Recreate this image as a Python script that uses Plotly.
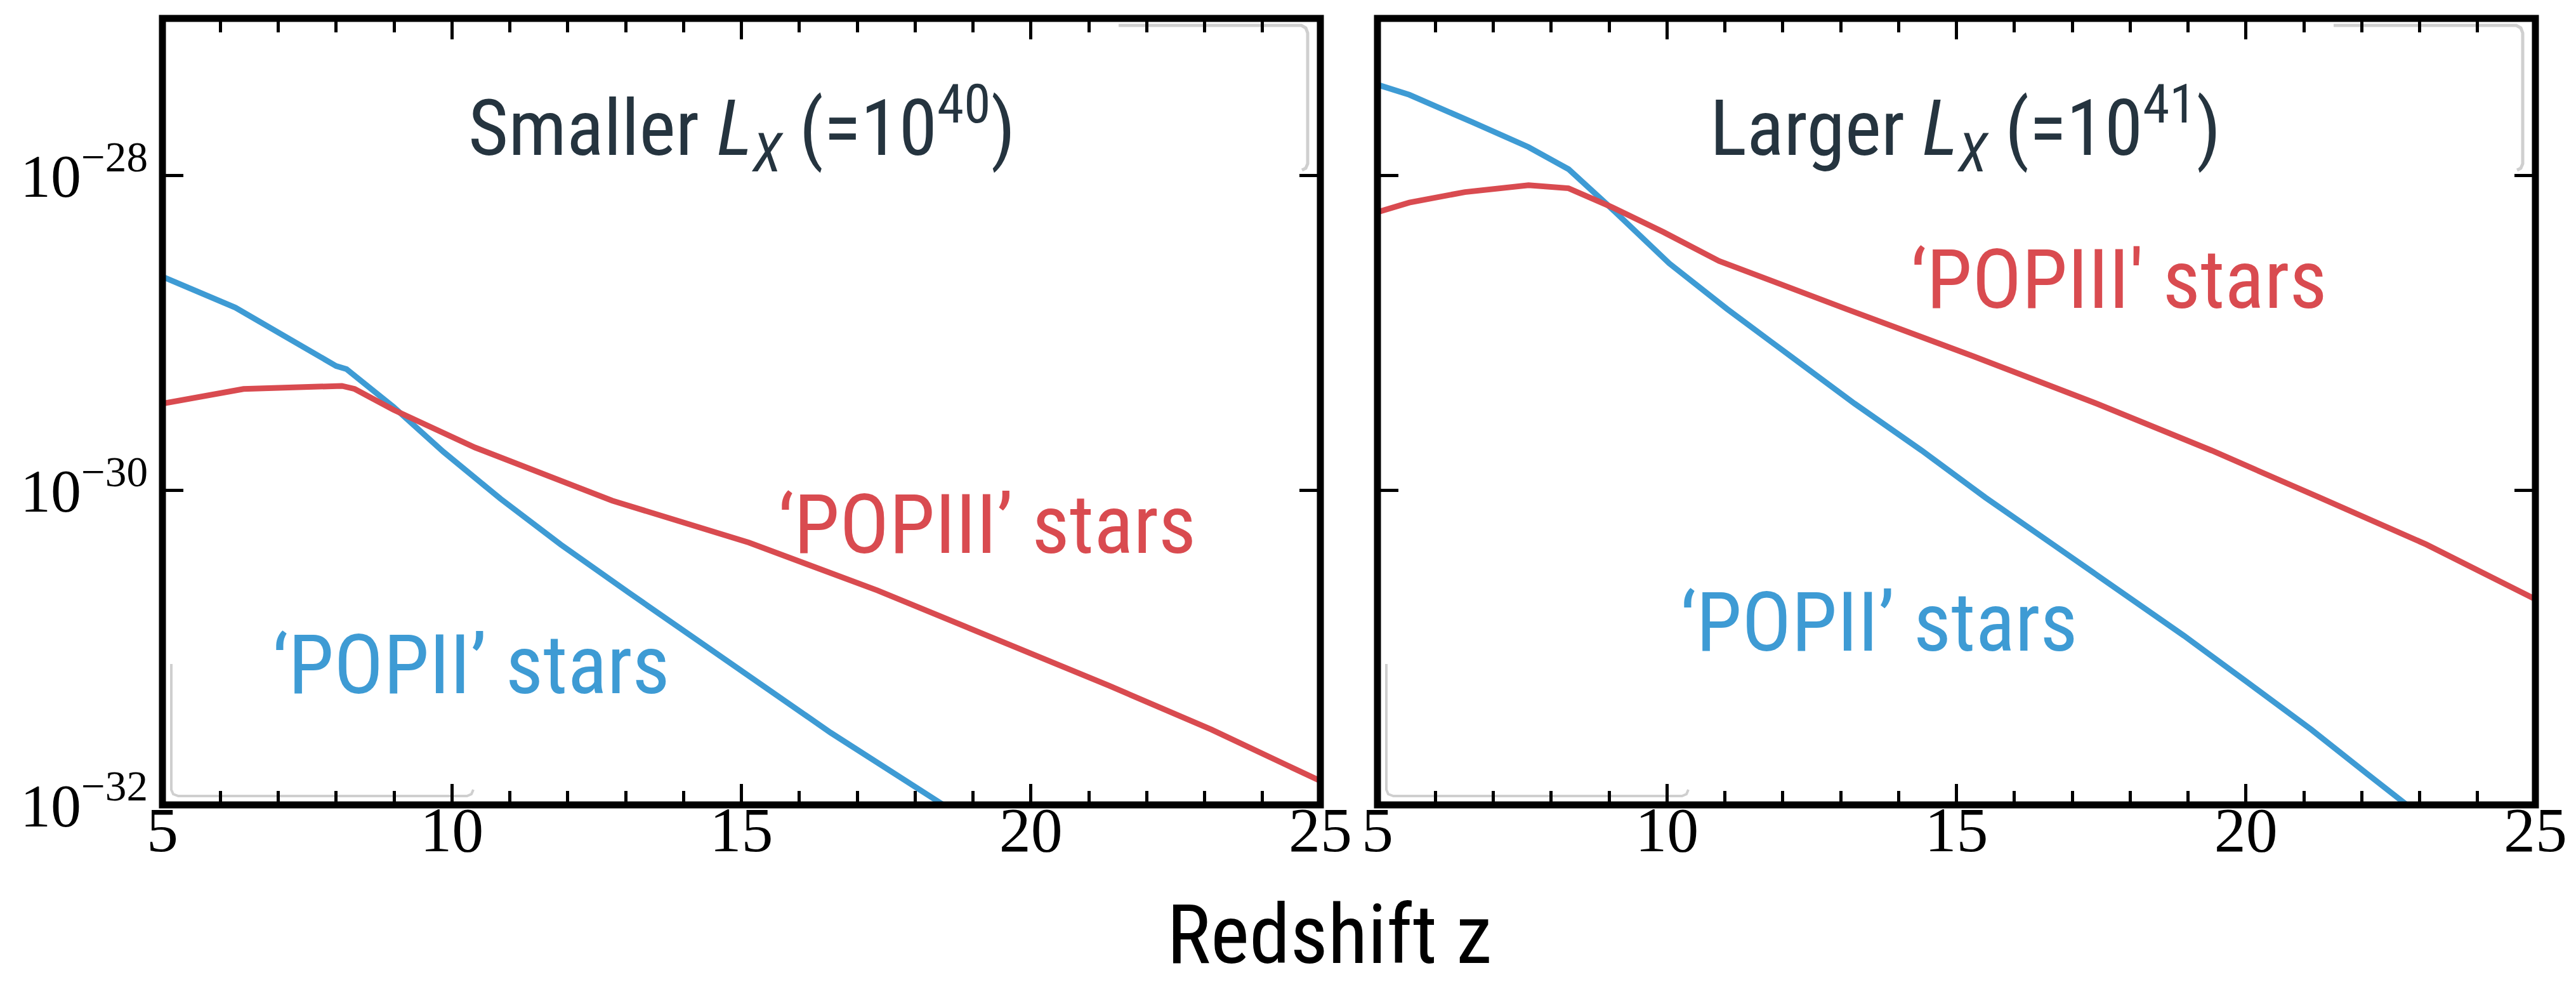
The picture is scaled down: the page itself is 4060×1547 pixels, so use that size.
import plotly.graph_objects as go

# ---------------- data ----------------
z_left_pop2 = [5.0, 6.26, 8.0, 8.18, 8.99, 9.85, 10.84, 11.88, 13.06, 15.28, 16.54, 18.49, 18.7]
y_left_pop2 = [2.28e-29, 1.45e-29, 6.17e-30, 5.89e-30, 3.39e-30, 1.76e-30, 8.83e-31, 4.52e-31,
               2.23e-31, 6.03e-32, 2.88e-32, 1.0e-32, 7.9e-33]

z_left_pop3 = [5.0, 6.4, 8.1, 8.32, 8.99, 10.4, 12.77, 15.13, 17.35, 19.42, 21.35, 23.12, 25.0]
y_left_pop3 = [3.56e-30, 4.41e-30, 4.61e-30, 4.41e-30, 3.25e-30, 1.87e-30, 8.59e-31, 4.65e-31,
               2.31e-31, 1.12e-31, 5.73e-32, 3.01e-32, 1.42e-32]

z_right_pop2 = [5.0, 5.55, 6.65, 7.61, 8.3, 9.05, 10.04, 11.04, 12.14, 13.24, 14.4, 15.5, 16.67,
                17.84, 18.93, 20.03, 21.13, 22.09, 22.75, 23.0]
y_right_pop2 = [3.79e-28, 3.27e-28, 2.18e-28, 1.52e-28, 1.10e-28, 6.15e-29, 2.77e-29, 1.42e-29,
                7.10e-30, 3.56e-30, 1.79e-30, 9.0e-31, 4.52e-31, 2.27e-31, 1.19e-31, 6.0e-32,
                3.01e-32, 1.58e-32, 1.02e-32, 8.3e-33]

z_right_pop3 = [5.0, 5.55, 6.51, 7.61, 8.3, 9.05, 9.94, 10.9, 13.1, 15.3, 17.42, 19.41, 21.27, 23.12, 25.0]
y_right_pop3 = [5.87e-29, 6.75e-29, 7.87e-29, 8.71e-29, 8.32e-29, 6.31e-29, 4.38e-29, 2.87e-29,
                1.42e-29, 7.10e-30, 3.56e-30, 1.79e-30, 9.0e-31, 4.52e-31, 2.03e-31]

x_tick_vals = [5, 10, 15, 20, 25]
x_tick_text = ["5", "10", "15", "20", "25"]
y_tick_vals = [1e-32, 1e-30, 1e-28]
y_tick_text = ["10<sup>\u221232</sup>", "10<sup>\u221230</sup>", "10<sup>\u221228</sup>"]

panel_titles = ["Smaller <i>L<sub>X</sub></i> (=10<sup>40</sup>)",
                "Larger <i>L<sub>X</sub></i> (=10<sup>41</sup>)"]
label_pop3 = ["\u2018POPIII\u2019 stars", "\u2018POPIII' stars"]
label_pop2 = ["\u2018POPII\u2019 stars", "\u2018POPII\u2019 stars"]
x_title = "Redshift z"

# ---------------- styling ----------------
RED = "#d94b50"
BLUE = "#3e9bd4"
TITLE_C = "#25343f"
SANS = ("Noto Sans Condensed, Noto Sans SemiCondensed, Roboto Condensed, "
        "Liberation Sans Narrow, Arial Narrow, Roboto, sans-serif")
SERIF = "Liberation Serif, Times New Roman, serif"

W, H = 4060, 1547
L_PX, R_PX, T_PX, B_PX = 248, 3988, 21, 1260
plot_w = R_PX - L_PX
plot_h = B_PX - T_PX
dom_left = [0, (2073 - L_PX) / plot_w]
dom_right = [(2163 - L_PX) / plot_w, 1]


def pp(px, py):
    return (px - L_PX) / plot_w, (B_PX - py) / plot_h


fig = go.Figure()
fig.add_trace(go.Scatter(x=z_left_pop2, y=y_left_pop2, mode="lines",
                         line=dict(color=BLUE, width=9), xaxis="x", yaxis="y", showlegend=False))
fig.add_trace(go.Scatter(x=z_left_pop3, y=y_left_pop3, mode="lines",
                         line=dict(color=RED, width=9), xaxis="x", yaxis="y", showlegend=False))
fig.add_trace(go.Scatter(x=z_right_pop2, y=y_right_pop2, mode="lines",
                         line=dict(color=BLUE, width=9), xaxis="x2", yaxis="y2", showlegend=False))
fig.add_trace(go.Scatter(x=z_right_pop3, y=y_right_pop3, mode="lines",
                         line=dict(color=RED, width=9), xaxis="x2", yaxis="y2", showlegend=False))


def xaxis_cfg(domain, anchor):
    return dict(domain=domain, anchor=anchor, range=[5, 25], tickvals=x_tick_vals,
                ticktext=x_tick_text, ticks="inside", ticklen=33, tickwidth=5, tickcolor="black",
                mirror="allticks", showline=False, showgrid=False, zeroline=False,
                minor=dict(ticks="inside", ticklen=22, tickwidth=5, tickcolor="black",
                           dtick=1, tick0=5, showgrid=False),
                tickfont=dict(family=SERIF, size=100, color="black"), ticklabelstandoff=-28)


def yaxis_cfg(anchor, labels):
    return dict(domain=[0, 1], anchor=anchor, type="log", range=[-32, -27],
                tickvals=y_tick_vals, ticktext=y_tick_text, showticklabels=labels,
                ticks="inside", ticklen=33, tickwidth=5, tickcolor="black",
                mirror="allticks", showline=False, showgrid=False, zeroline=False,
                tickfont=dict(family=SERIF, size=96, color="black"), ticklabelstandoff=22)


annotations = []
title_pos = [(15.0, -27.70, "x", "y"), (15.15, -27.70, "x2", "y2")]
for (tx, ty, xr, yr), t in zip(title_pos, panel_titles):
    annotations.append(dict(x=tx, y=ty, xref=xr, yref=yr, text=t, showarrow=False,
                            xanchor="center", yanchor="middle",
                            font=dict(family=SANS, size=122, color=TITLE_C)))
pop3_pos = [(19.24, -30.22, "x", "y"), (17.80, -28.66, "x2", "y2")]
pop2_pos = [(10.33, -31.11, "x", "y"), (13.66, -30.84, "x2", "y2")]
for (tx, ty, xr, yr), t in zip(pop3_pos, label_pop3):
    annotations.append(dict(x=tx, y=ty, xref=xr, yref=yr, text=t, showarrow=False,
                            xanchor="center", yanchor="middle",
                            font=dict(family=SANS, size=130, color=RED)))
for (tx, ty, xr, yr), t in zip(pop2_pos, label_pop2):
    annotations.append(dict(x=tx, y=ty, xref=xr, yref=yr, text=t, showarrow=False,
                            xanchor="center", yanchor="middle",
                            font=dict(family=SANS, size=130, color=BLUE)))
ax_, ay_ = pp(2087, 1464)
annotations.append(dict(x=ax_, y=ay_, xref="paper", yref="paper", text=x_title, showarrow=False,
                        xanchor="center", yanchor="middle",
                        font=dict(family=SANS, size=130, color="black")))

shapes = []
# faint grey remnants of cropped legend boxes
GREY = "#cfcfcf"


def path_from(points):
    s = ""
    for i, (px, py) in enumerate(points):
        x, y = pp(px, py)
        s += ("M" if i == 0 else "L") + f"{x:.5f},{y:.5f} "
    return s


for off in (0, 2163 - 248):
    shapes.append(dict(type="path", xref="paper", yref="paper", layer="below",
                       path=path_from([(1755 + off, 32), (2043 + off, 32), (2050 + off, 36),
                                       (2053 + off, 44), (2053 + off, 250), (2050 + off, 257),
                                       (2044 + off, 260)]),
                       line=dict(color=GREY, width=5)))
    shapes.append(dict(type="path", xref="paper", yref="paper", layer="below",
                       path=path_from([(262 + off, 1038), (262 + off, 1236), (265 + off, 1243),
                                       (273 + off, 1246), (728 + off, 1246), (735 + off, 1243),
                                       (738 + off, 1236)]),
                       line=dict(color=GREY, width=4)))

for xr in ("x", "x2"):
    yr = "y" if xr == "x" else "y2"
    shapes.append(dict(type="rect", xref=f"{xr} domain", yref=f"{yr} domain",
                       x0=0, x1=1, y0=0, y1=1, layer="above",
                       line=dict(color="black", width=11)))

fig.update_layout(
    width=W, height=H,
    margin=dict(l=L_PX, r=W - R_PX, t=T_PX, b=H - B_PX, pad=0),
    paper_bgcolor="white", plot_bgcolor="white",
    xaxis=xaxis_cfg(dom_left, "y"),
    yaxis=yaxis_cfg("x", True),
    xaxis2=xaxis_cfg(dom_right, "y2"),
    yaxis2=yaxis_cfg("x2", False),
    annotations=annotations,
    shapes=shapes,
    showlegend=False,
)

fig.write_html("out.html")
